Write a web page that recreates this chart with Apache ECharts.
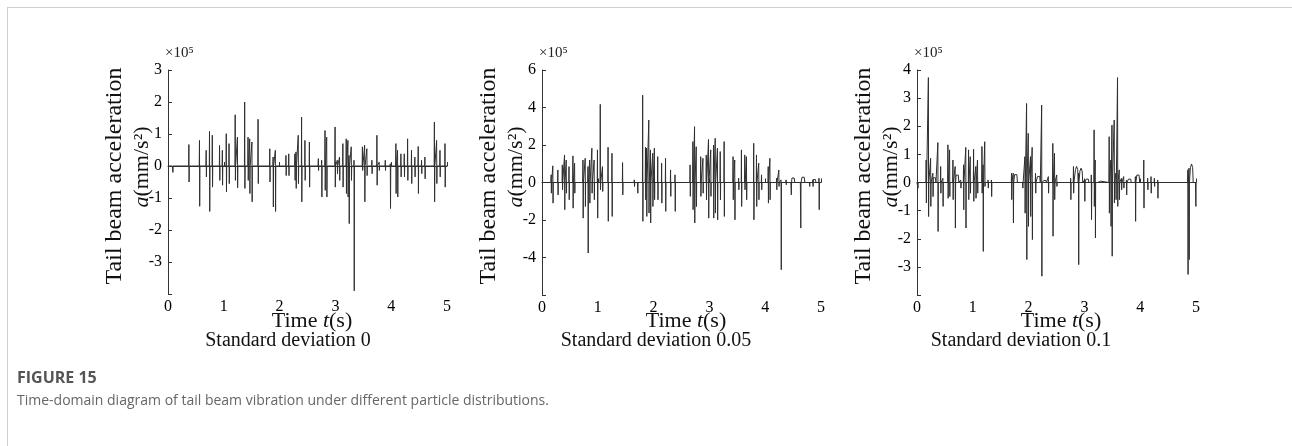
<!DOCTYPE html>
<html>
<head>
<meta charset="utf-8">
<script src="https://cdn.jsdelivr.net/npm/echarts@6/dist/echarts.min.js"></script>
<style>
  body { margin: 0; background: #fff; }
  #wrap { position: relative; width: 1292px; height: 446px; overflow: hidden; }
  #main { position: absolute; left: 0; top: 0; width: 1292px; height: 446px; }
  #frame { position: absolute; left: 7px; top: 7px; right: -5px; bottom: -5px;
           border-top: 1px solid #cfcfcf; border-left: 1px solid #cfcfcf; pointer-events: none; }
  #figno { position: absolute; left: 17px; top: 366px; font: 700 16px "Open Sans", sans-serif; color: #555; }
  #cap { position: absolute; left: 17px; top: 390px; font: 14px "Open Sans", sans-serif; color: #666; }
</style>
</head>
<body>
<div id="wrap">
  <div id="main"></div>
  <div id="frame"></div>
  <div id="figno">FIGURE 15</div>
  <div id="cap">Time-domain diagram of tail beam vibration under different particle distributions.</div>
</div>
<script>
// x axis ticks (s)
const timeTicks = [0, 1, 2, 3, 4, 5];

// ---- standard deviation 0 : spikes (time, peak, trough), x10^5 mm/s^2
const t1 = [0.08, 0.37, 0.56, 0.68, 0.74, 0.79, 0.92, 0.97, 1.04, 1.09,
            1.20, 1.24, 1.37, 1.43, 1.46, 1.50, 1.61, 1.82, 1.88, 1.92,
            2.11, 2.16, 2.27, 2.29, 2.33, 2.39, 2.45, 2.53, 2.69, 2.75,
            2.81, 2.84, 2.99, 3.03, 3.07, 3.13, 3.19, 3.22, 3.24, 3.28,
            3.33, 3.48, 3.52, 3.56, 3.65, 3.74, 3.78, 3.89, 3.98, 4.08,
            4.11, 4.17, 4.23, 4.29, 4.36, 4.42, 4.48, 4.54, 4.60, 4.77,
            4.81, 4.87, 4.96];
const hi1 = [0.05, 0.67, 0.8, 0.49, 1.08, 0.96, 0.64, 0.49, 1.01, 0.7,
             1.6, 0.9, 2.0, 0.9, 0.85, 0.75, 1.46, 0.54, 0.28, 0.49,
             0.33, 0.38, 0.38, 0.44, 0.96, 1.53, 0.8, 0.75, 0.23, 0.18,
             1.11, 0.9, 1.22, 0.18, 0.28, 0.7, 0.85, 0.8, 0.33, 0.6,
             0.18, 0.6, 0.65, 0.54, 0.18, 0.96, 0.12, 0.18, 0.07, 0.7,
             0.49, 0.38, 0.38, 0.85, 0.49, 0.28, 0.61, 0.18, 0.28, 1.37,
             0.8, 0.49, 0.7];
const lo1 = [-0.2, -0.5, -1.26, -0.34, -1.42, -0.66, -0.45, -0.6, -0.81, -0.55,
             -0.45, -0.68, -0.7, -0.45, -0.86, -1.12, -0.55, -0.5, -1.28, -1.42,
             -0.3, -0.3, -0.45, -0.7, -0.55, -1.12, -0.45, -0.66, -0.14, -0.97,
             -0.76, -0.97, -0.66, -0.24, -0.45, -0.66, -0.86, -0.97, -1.8, -0.45,
             -3.9, -0.14, -1.12, -0.3, -0.24, -0.6, -0.14, -0.14, -1.33, -0.86,
             -0.97, -0.34, -0.34, -0.45, -0.55, -0.34, -0.86, -0.24, -0.4, -1.12,
             -0.55, -0.34, -0.66];

// ---- standard deviation 0.05
const t2 = [0.16, 0.19, 0.28, 0.36, 0.40, 0.43, 0.48, 0.55, 0.58, 0.73,
            0.77, 0.82, 0.85, 0.89, 0.93, 0.99, 1.04, 1.08, 1.18, 1.25,
            1.44, 1.65, 1.71, 1.80, 1.85, 1.87, 1.91, 1.94, 1.98, 2.01,
            2.07, 2.14, 2.21, 2.30, 2.38, 2.65, 2.70, 2.73, 2.76, 2.84,
            2.88, 2.94, 2.98, 3.02, 3.07, 3.10, 3.14, 3.19, 3.26, 3.42,
            3.45, 3.52, 3.57, 3.63, 3.66, 3.79, 3.84, 3.88, 3.93, 4.05,
            4.08, 4.20, 4.24, 4.28, 4.37, 4.46, 4.63, 4.79, 4.85, 4.96];
const hi2 = [0.41, 0.89, 0.67, 0.94, 1.47, 1.2, 0.85, 1.42, 1.03, 1.2,
             1.29, 0.85, 1.2, 1.83, 1.2, 1.74, 4.17, 0.85, 1.88, 1.56,
             1.06, 0.14, 0.05, 4.66, 1.88, 1.83, 3.33, 1.74, 1.56, 1.83,
             1.38, 1.03, 1.29, 0.67, 0.41, 0.94, 2.18, 2.98, 1.91, 1.38,
             1.29, 1.47, 2.3, 1.74, 2.0, 2.36, 1.83, 1.65, 2.18, 1.38,
             1.2, 0.23, 1.74, 1.47, 1.38, 2.09, 1.47, 1.03, 0.41, 0.85,
             1.29, 0.23, 0.67, 0.14, 0.14, 0.05, 0, 0.05, 0.14, 0.23];
const lo2 = [-0.57, -1.1, -0.66, -0.39, -1.45, -0.57, -0.92, -1.37, -0.57, -1.9,
             -1.28, -3.76, -1.1, -0.57, -0.92, -1.9, -0.39, -0.48, -2.07, -1.81,
             -0.66, -0.21, -0.57, -2.07, -0.92, -1.81, -1.63, -2.16, -1.28, -0.92,
             -0.92, -1.1, -1.54, -0.74, -1.54, -0.74, -1.45, -2.16, -1.28, -0.74,
             -0.57, -0.92, -1.9, -0.74, -1.9, -1.63, -1.99, -0.92, -1.81, -0.92,
             -1.99, -0.39, -1.28, -0.39, -0.92, -1.99, -1.28, -0.92, -0.39, -1.1,
             -0.92, -0.39, -0.21, -4.65, -0.12, -0.66, -2.43, -0.21, -0.21, -1.45];
const bumpT2 = [4.50, 4.68, 4.88];
const bumpH2 = [0.3, 0.35, 0.2];

// ---- standard deviation 0.1
const t3 = [0.01, 0.16, 0.20, 0.24, 0.28, 0.37, 0.42, 0.46, 0.55, 0.58,
            0.64, 0.68, 0.78, 0.83, 0.87, 0.92, 0.95, 1.01, 1.05, 1.08,
            1.16, 1.18, 1.21, 1.27, 1.33, 1.69, 1.72, 1.89, 1.93, 1.96,
            1.99, 2.03, 2.06, 2.12, 2.23, 2.35, 2.43, 2.46, 2.50, 2.75,
            2.80, 2.89, 3.00, 3.12, 3.17, 3.19, 3.44, 3.47, 3.49, 3.53,
            3.56, 3.59, 3.62, 3.66, 3.70, 3.75, 3.91, 4.06, 4.13, 4.19,
            4.25, 4.31, 4.85, 4.87, 4.99];
const hi3 = [0.04, 0.8, 3.73, 0.86, 0.33, 1.42, 0.57, 0.15, 1.34, 1.16,
             0.8, 0.57, 0.09, 0.63, 1.25, 1.16, 0.92, 1.18, 0.57, 0.8,
             1.28, 0.63, 1.45, 0.09, 0.09, 0.33, 0.33, 0, 0.92, 2.81,
             1.75, 0.92, 1.25, 0.33, 2.75, 0.21, 1.39, 1.04, 0.27, 0.15,
             0.57, 0.33, 0.09, 0.27, 1.87, 0.8, 1.63, 0.8, 2.04, 2.22,
             0.33, 3.73, 0.45, 0.15, 0.21, 0.09, 0.21, 0.8, 0.15, 0.21,
             0.15, 0.09, 0.45, 0.51, 0];
const lo3 = [-0.2, -0.73, -1.21, -0.85, -0.5, -1.74, -0.38, -0.85, -0.56, -0.5,
             -0.61, -1.62, -0.2, -0.97, -1.62, -0.61, -0.38, -0.67, -0.56, -0.38,
             -0.38, -2.45, -0.14, -0.2, -0.5, -0.61, -1.44, -0.2, -1.09, -2.74,
             -1.56, -1.21, -2.03, -0.38, -3.33, -0.38, -1.91, -0.61, -0.14, -0.61,
             -0.38, -2.92, -0.67, -1.32, -0.85, -1.97, -1.09, -1.56, -2.62, -0.73,
             -0.61, -0.85, -0.61, -0.26, -0.2, -0.44, -1.38, -0.91, -0.26, -0.38,
             -0.14, -0.56, -3.27, -2.74, -0.85];
const bumpT3 = [0.31, 0.72, 1.77, 2.18, 2.29, 2.86, 2.94, 3.05, 3.27, 3.81, 3.96, 4.92];
const bumpH3 = [0.21, 0.33, 0.35, 0.27, 0.09, 0.57, 0.51, 0.15, 0.06, 0.15, 0.33, 0.66];

const panels = [
    { t: t1, hi: hi1, lo: lo1, bt: [], bh: [], min: -4, max: 3, step: 1, name: 'Standard deviation 0' },
    { t: t2, hi: hi2, lo: lo2, bt: bumpT2, bh: bumpH2, min: -6, max: 6, step: 2, name: 'Standard deviation 0.05' },
    { t: t3, hi: hi3, lo: lo3, bt: bumpT3, bh: bumpH3, min: -4, max: 4, step: 1, name: 'Standard deviation 0.1' }
];

// spikes are drawn as a near-vertical up/down stroke, bumps as a small arch
function buildTrace(p) {
    const segs = [];
    p.t.forEach((x, i) => {
        segs.push({ s: x, pts: [[x, 0], [x + 0.004, p.hi[i]], [x + 0.008, p.lo[i]], [x + 0.012, 0]] });
    });
    p.bt.forEach((x, i) => {
        const h = p.bh[i];
        segs.push({ s: x - 0.03, pts: [[x - 0.03, 0], [x - 0.02, h * 0.8], [x, h], [x + 0.02, h * 0.8], [x + 0.03, 0]] });
    });
    segs.sort((a, b) => a.s - b.s);
    const data = [[0, 0]];
    segs.forEach(g => data.push(...g.pts));
    data.push([5, 0]);
    return data;
}

const serif = '"Liberation Serif", "Times New Roman", serif';
const lefts = [168, 542, 917];
const grids = [], xAxes = [], yAxes = [], series = [], graphics = [];

panels.forEach((p, i) => {
    const L = lefts[i];
    grids.push({ left: L, top: 70, width: 279, height: i === 0 ? 224 : 225 });
    xAxes.push({
        type: 'value', gridIndex: i, min: 0, max: 5, interval: 1,
        axisLine: { lineStyle: { color: '#333', width: 1 } },
        axisTick: { inside: true, length: 4, lineStyle: { color: '#333' } },
        axisLabel: { fontFamily: serif, fontSize: 16, color: '#000', margin: 5,
                     formatter: v => timeTicks.indexOf(v) >= 0 ? String(v) : '' },
        splitLine: { show: false }
    });
    yAxes.push({
        type: 'value', gridIndex: i, min: p.min, max: p.max, interval: p.step,
        axisLine: { show: true, lineStyle: { color: '#333', width: 1 } },
        axisTick: { show: true, inside: true, length: 4, lineStyle: { color: '#333' } },
        axisLabel: { fontFamily: serif, fontSize: 16, color: '#000', margin: 6,
                     formatter: v => v === p.min ? '' : String(v) },
        splitLine: { show: false }
    });
    series.push({
        type: 'line', xAxisIndex: i, yAxisIndex: i, data: buildTrace(p),
        showSymbol: false, animation: false,
        lineStyle: { color: '#2e2e2e', width: 1 }
    });
    // axis annotations
    graphics.push({
        type: 'text', left: L - 3, top: 46,
        style: { text: '×10⁵', font: '15px ' + serif, fill: '#222' }
    });
    graphics.push({
        type: 'text', x: L - 53, y: 176, rotation: Math.PI / 2,
        style: { text: 'Tail beam acceleration', font: '24px ' + serif, fill: '#111',
                 textAlign: 'center', textVerticalAlign: 'middle' }
    });
    graphics.push({
        type: 'text', x: L - 26, y: 167, rotation: Math.PI / 2,
        style: { text: '{i|a}{n|(mm/s²)}', textAlign: 'center', textVerticalAlign: 'middle',
                 rich: { i: { font: 'italic 22px ' + serif, fill: '#111' },
                         n: { font: '22px ' + serif, fill: '#111' } } }
    });
    graphics.push({
        type: 'text', x: L + 144, y: 321,
        style: { text: '{n|Time }{i|t}{n|(s)}', textAlign: 'center', textVerticalAlign: 'middle',
                 rich: { i: { font: 'italic 22px ' + serif, fill: '#111' },
                         n: { font: '22px ' + serif, fill: '#111' } } }
    });
    graphics.push({
        type: 'text', x: L + [120, 114, 104][i], y: 341,
        style: { text: p.name, font: '20px ' + serif, fill: '#111',
                 textAlign: 'center', textVerticalAlign: 'middle' }
    });
});

var chartDom = document.getElementById('main');
var myChart = echarts.init(chartDom);
var option = {
    animation: false,
    grid: grids,
    xAxis: xAxes,
    yAxis: yAxes,
    series: series,
    graphic: graphics
};
option && myChart.setOption(option);
</script>
</body>
</html>
